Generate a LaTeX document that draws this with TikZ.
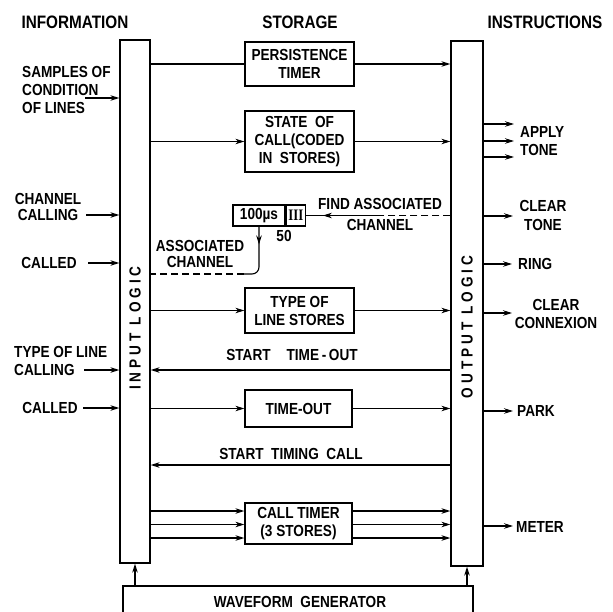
\documentclass[tikz,border=0pt]{standalone}
\usepackage{fontspec}
\setmainfont{Liberation Sans}[FakeStretch=0.85]
\newfontfamily\romfont{Liberation Serif}[FakeStretch=0.8]
\usetikzlibrary{arrows.meta,decorations.markings}
\newcommand\dgfont{\fontsize{16}{18}\selectfont\bfseries}
\newcommand\hdfont{\fontsize{18}{20}\selectfont\bfseries}
\tikzset{
  x=1pt,y=-1pt,
  every node/.style={font=\dgfont},
  blk/.style={draw,line width=1.3pt,align=center,inner sep=0pt},
  bar/.style={draw,line width=1.3pt,inner sep=0pt},
  conn/.style={line width=1.1pt},
  arr/.style={conn,-{Stealth[length=9pt,width=5.5pt]}},
  midarr/.style={decoration={markings,mark=at position #1 with {\arrow{Stealth[length=9pt,width=5.5pt]}}},postaction={decorate}},
  txt/.style={align=center,inner sep=0pt},
  hdr/.style={inner sep=0pt,font=\hdfont},
  ltxt/.style={align=left,inner sep=0pt,anchor=west},
  barlbl/.style={rotate=90,inner sep=0pt,font=\dgfont\addfontfeature{LetterSpace=25}},
}
\begin{document}
\begin{tikzpicture}
\useasboundingbox (0,0) rectangle (613,611);
% headers
\node[hdr] (h1) at (75,22) {INFORMATION};
\node[hdr] (h2) at (300,22) {STORAGE};
\node[hdr] (h3) at (545,22) {INSTRUCTIONS};
% bars
\node[bar,minimum width=30pt,minimum height=523pt] (inb) at (135,301.5) {};
\node[barlbl] (inl) at (135,328) {INPUT LOGIC};
\node[bar,minimum width=32pt,minimum height=525pt] (outb) at (467,303.5) {};
\node[barlbl] (outl) at (467,327) {OUTPUT LOGIC};
% storage boxes
\node[blk,minimum width=109pt,minimum height=44pt] (pers) at (299.5,64) {PERSISTENCE\\TIMER};
\node[blk,minimum width=109pt,minimum height=61pt] (state) at (299.5,141.5) {STATE\ \ OF\\CALL(CODED\\IN\ \ STORES)};
\node[blk,minimum width=52pt,minimum height=21pt] (us) at (259,215.5) {100µs};
\node[blk,minimum width=19pt,minimum height=21pt,anchor=west] (three) at (us.east) {\romfont III};
\node[blk,minimum width=109pt,minimum height=45pt] (tls) at (299.5,310.5) {TYPE OF\\LINE STORES};
\node[blk,minimum width=107pt,minimum height=37pt] (tout) at (298.5,408.5) {TIME-OUT};
\node[blk,minimum width=107pt,minimum height=41pt] (ctim) at (298.5,523.5) {CALL TIMER\\(3 STORES)};
\node[blk,minimum width=350pt,minimum height=40pt] (wave) at (298,606) {};
\node[txt] (wavel) at (300,602) {WAVEFORM\ \ GENERATOR};
% generator to bars
\draw[arr] (inb.south |- wave.north) -- (inb.south);
\draw[arr] (outb.south |- wave.north) -- (outb.south);
% storage connections
\draw[conn] (inb.east |- pers.west) -- (pers.west);
\draw[arr] (pers.east) -- (outb.west |- pers.east);
\draw[arr] (inb.east |- state.west) -- (state.west);
\draw[arr] (state.east) -- (outb.west |- state.east);
% find associated channel
\coordinate (fam) at (383,215.5);
\draw[conn,dash pattern=on 7pt off 4pt] (outb.west |- fam) -- (fam);
\draw[conn,midarr=0.78] (fam) -- (three.east);
\node[txt,align=center] (fal) at (380,214.5) {FIND ASSOCIATED\\[3pt]CHANNEL};
% associated channel
\coordinate (acc) at (259,274);
\coordinate (acd) at (244,274);
\draw[conn,rounded corners=7pt,midarr=0.3] (us.south) -- (acc) -- (acd);
\draw[conn,dash pattern=on 7pt off 4pt] (acd) -- (inb.east |- acd);
\node[txt] (acl) at (200,254) {ASSOCIATED\\[-2pt]CHANNEL};
\node[txt] (fifty) at (284,236) {50};
% type of line stores
\draw[arr] (inb.east |- tls.west) -- (tls.west);
\draw[arr] (tls.east) -- (outb.west |- tls.east);
% start time-out
\coordinate (sto) at (300,370);
\draw[arr] (outb.west |- sto) -- (inb.east |- sto);
\node[txt] (stol) at (292,355) {START\quad TIME\,-\,OUT};
% time-out
\draw[arr] (inb.east |- tout.west) -- (tout.west);
\draw[arr] (tout.east) -- (outb.west |- tout.east);
% start timing call
\coordinate (stc) at (300,465);
\draw[arr] (outb.west |- stc) -- (inb.east |- stc);
\node[txt] (stcl) at (291,454) {START\ \ TIMING\ \ CALL};
% call timer
\coordinate (ct1) at (298.5,511);
\coordinate (ct2) at (298.5,524.5);
\coordinate (ct3) at (298.5,538);
\foreach \c in {ct1,ct2,ct3}{
  \draw[arr] (inb.east |- \c) -- (ctim.west |- \c);
  \draw[arr] (ctim.east |- \c) -- (outb.west |- \c);
}
% left inputs
\node[ltxt] (samp) at (22,90) {SAMPLES OF\\CONDITION\\OF LINES};
\coordinate (sa) at (85,98);
\draw[arr] (sa) -- (inb.west |- sa);
\node[txt] (chc) at (48,207) {CHANNEL\\[-2pt]CALLING};
\coordinate (cca) at (86,215);
\draw[arr] (cca) -- (inb.west |- cca);
\node[txt] (cld1) at (49,263) {CALLED};
\coordinate (cda) at (88,263);
\draw[arr] (cda) -- (inb.west |- cda);
\node[ltxt] (tlc) at (14,361) {TYPE OF LINE\\CALLING};
\coordinate (tla) at (84,370);
\draw[arr] (tla) -- (inb.west |- tla);
\node[txt] (cld2) at (50,408) {CALLED};
\coordinate (cdb) at (83,408);
\draw[arr] (cdb) -- (inb.west |- cdb);
% right outputs
\coordinate (at1) at (514,124);
\coordinate (at2) at (514,141);
\coordinate (at3) at (514,157);
\foreach \c in {at1,at2,at3}{\draw[arr] (outb.east |- \c) -- (\c);}
\node[ltxt] (apl) at (520,141.5) {APPLY\\TONE};
\coordinate (ctn) at (513,216);
\draw[arr] (outb.east |- ctn) -- (ctn);
\node[txt] (ctl) at (543,215) {CLEAR\\[1pt]TONE};
\coordinate (rg) at (512,264);
\draw[arr] (outb.east |- rg) -- (rg);
\node[ltxt] (rgl) at (518,264) {RING};
\coordinate (ccx) at (512,313);
\draw[arr] (outb.east |- ccx) -- (ccx);
\node[txt] (ccl) at (556,314) {CLEAR\\CONNEXION};
\coordinate (pk) at (513,411);
\draw[arr] (outb.east |- pk) -- (pk);
\node[ltxt] (pkl) at (517,411) {PARK};
\coordinate (mt) at (513,526);
\draw[arr] (outb.east |- mt) -- (mt);
\node[ltxt] (mtl) at (516,527) {METER};
\end{tikzpicture}
\end{document}
